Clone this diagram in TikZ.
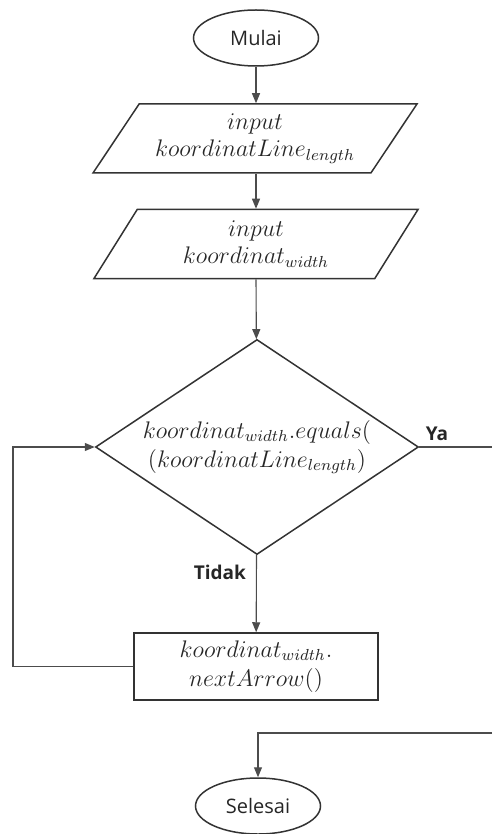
\documentclass[tikz,border=0pt]{standalone}
\usepackage{fontspec}
\setsansfont{Open Sans}
\usetikzlibrary{shapes.geometric,arrows.meta}
\begin{document}
\begin{tikzpicture}[x=0.5pt,y=-0.5pt,
  shapeline/.style={draw=black!80, line width=0.75pt, inner sep=0pt},
  mathtext/.style={font=\fontsize{12}{14.5}\selectfont, align=center, text=black!85},
  terminal/.style={shapeline, ellipse, minimum width=62.5pt, minimum height=28pt,
    font=\sffamily\fontsize{10}{12}\selectfont, text=black!85},
  iobox/.style={shapeline, mathtext, trapezium, trapezium left angle=47,
    trapezium right angle=133, trapezium stretches body,
    minimum width=162pt, minimum height=34.5pt},
  decision/.style={shapeline, diamond, minimum width=161.5pt, minimum height=107.5pt},
  process/.style={shapeline, mathtext, rectangle, minimum width=122pt, minimum height=33.5pt},
  flow/.style={draw=black!70, line width=0.55pt, -{Triangle[length=5pt,width=4pt]}},
  plain/.style={draw=black!70, line width=0.55pt},
  branch/.style={font=\sffamily\bfseries\fontsize{9.5}{11}\selectfont, text=black!85, inner sep=1pt}
]
\useasboundingbox (0,0) rectangle (492,834);

% nodes of the flowchart
\node[terminal] (start) at (256,38) {Mulai};
\node[iobox] (in1) at (255,138.5) {$input$\\[-1pt]$koordinatLine_{length}$};
\node[iobox] (in2) at (256,244) {$input$\\[-1pt]$koordinat_{width}$};
\node[decision] (dec) at (257,447) {};
\node[mathtext] (cond) at (dec.center) {$koordinat_{width}.equals($\\$(koordinatLine_{length})$};
\node[process] (act) at (256,666.5) {$koordinat_{width}.$\\$nextArrow()$};
\node[terminal] (stop) at (258,806) {Selesai};

% free ends of the connectors at the picture border
\coordinate (loopx) at (13,447);
\coordinate (yaend) at (492,447);
\coordinate (backin) at (492,733);

% connectors
\draw[flow] (start) -- (start |- in1.north);
\draw[flow] (in1.south -| start) -- (start |- in2.north);
\draw[flow] (in2.south -| start) -- (dec);
\draw[flow] (dec) -- node[pos=0.22, left, branch, xshift=-4pt] {Tidak} (act);
\draw[flow] (act.west) -| (loopx) -- (dec.west);
\draw[plain] (dec.east) -- node[pos=0, anchor=south west, branch, xshift=2pt, yshift=2pt] {Ya} (yaend);
\draw[flow] (backin) -| (stop.north);
\end{tikzpicture}
\end{document}
